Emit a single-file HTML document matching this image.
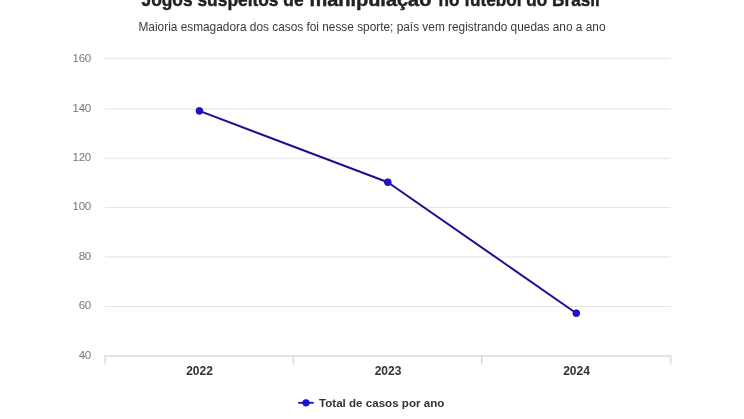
<!DOCTYPE html>
<html lang="pt-BR">
<head>
<meta charset="utf-8">
<title>Jogos suspeitos de manipulação no futebol do Brasil</title>
<style>
html,body{margin:0;padding:0;background:#fff;}
body{width:744px;height:419px;overflow:hidden;position:relative;font-family:"Liberation Sans",sans-serif;}
svg{position:absolute;left:0;top:0;display:block;}
text{font-family:"Liberation Sans",sans-serif;}
.title{font-size:19px;font-weight:bold;fill:#222;stroke:#222;stroke-width:0.45px;}
.sub{font-size:12.5px;fill:#3a3a3a;}
.yl{font-size:11.5px;letter-spacing:-0.3px;fill:#777;}
.xl{font-size:12px;font-weight:bold;fill:#333;}
.lg{font-size:11.5px;font-weight:bold;fill:#333;}
</style>
</head>
<body>
<svg width="744" height="419" viewBox="0 0 744 419">
  <rect width="744" height="419" fill="#fff"/>
  <g class="title">
    <text x="141.5" y="5.6" textLength="162.1" lengthAdjust="spacingAndGlyphs">Jogos suspeitos de</text>
    <text x="309.4" y="5.6" textLength="122.0" lengthAdjust="spacingAndGlyphs">manipulação</text>
    <text x="438.6" y="5.6" textLength="161.2" lengthAdjust="spacingAndGlyphs">no futebol do Brasil</text>
  </g>
  <text class="sub" x="372" y="31" text-anchor="middle" textLength="467" lengthAdjust="spacingAndGlyphs">Maioria esmagadora dos casos foi nesse sporte; país vem registrando quedas ano a ano</text>
  <g stroke="#e4e4e4" stroke-width="1">
    <line x1="105.2" x2="670.7" y1="58.3" y2="58.3"/>
    <line x1="105.2" x2="670.7" y1="109" y2="109"/>
    <line x1="105.2" x2="670.7" y1="158.3" y2="158.3"/>
    <line x1="105.2" x2="670.7" y1="207.6" y2="207.6"/>
    <line x1="105.2" x2="670.7" y1="256.9" y2="256.9"/>
    <line x1="105.2" x2="670.7" y1="306.5" y2="306.5"/>
  </g>
  <g stroke="#d8dbe7">
    <line x1="104.3" x2="671.5" y1="356" y2="356" stroke-width="1.6"/>
    <line x1="105.1" x2="105.1" y1="356" y2="364.6" stroke-width="1.5"/>
    <line x1="293.3" x2="293.3" y1="356" y2="364.6" stroke-width="1.2" stroke="#d0d3e0"/>
    <line x1="481.6" x2="481.6" y1="356" y2="364.6" stroke-width="1.2" stroke="#d0d3e0"/>
    <line x1="670.7" x2="670.7" y1="356" y2="364.6" stroke-width="1.5"/>
  </g>
  <g class="yl" text-anchor="end">
    <text x="90.9" y="62">160</text>
    <text x="90.9" y="112">140</text>
    <text x="90.9" y="161">120</text>
    <text x="90.9" y="210">100</text>
    <text x="90.9" y="260">80</text>
    <text x="90.9" y="309">60</text>
    <text x="90.9" y="359">40</text>
  </g>
  <g class="xl" text-anchor="middle">
    <text x="199.5" y="374.8">2022</text>
    <text x="388" y="374.8">2023</text>
    <text x="576.5" y="374.8">2024</text>
  </g>
  <polyline points="199.4,110.9 387.8,182.2 576.3,313.2" fill="none" stroke="#1b0f94" stroke-width="2" stroke-linejoin="round" stroke-linecap="round"/>
  <g fill="#1a10e0" stroke="#1e1296" stroke-width="0.9">
    <circle cx="199.4" cy="110.9" r="3.4"/>
    <circle cx="387.8" cy="182.2" r="3.4"/>
    <circle cx="576.3" cy="313.2" r="3.4"/>
  </g>
  <line x1="298.3" x2="313.7" y1="402.8" y2="402.8" stroke="#1b0f94" stroke-width="1.8"/>
  <circle cx="306" cy="402.8" r="3.4" fill="#1a10e0" stroke="#1a10c8" stroke-width="0.6"/>
  <text class="lg" x="319" y="406.6" textLength="125.3" lengthAdjust="spacingAndGlyphs">Total de casos por ano</text>
</svg>
</body>
</html>
